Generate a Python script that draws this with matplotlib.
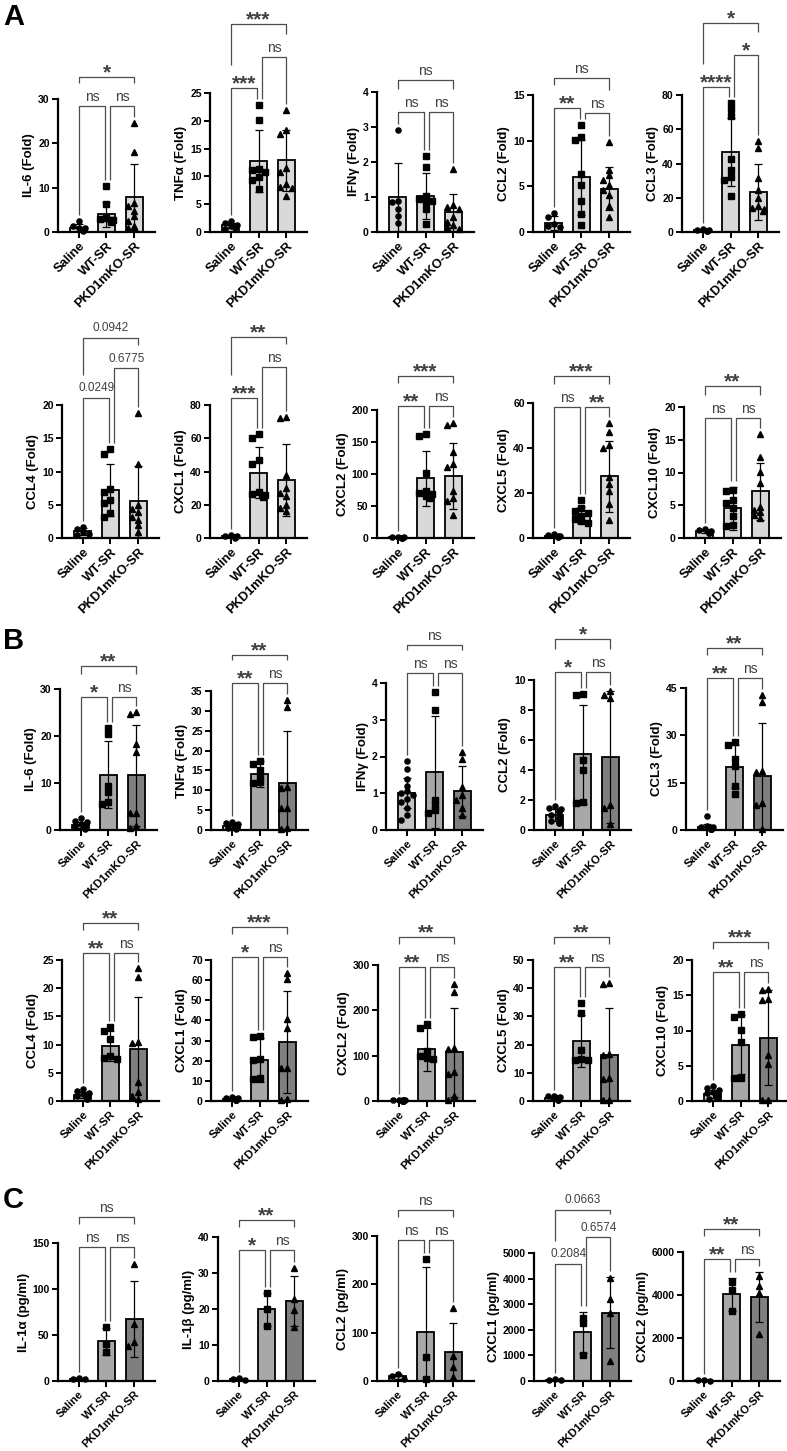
import numpy as np
import matplotlib.pyplot as plt

plt.rcParams['font.family'] = ['Liberation Sans', 'DejaVu Sans']
plt.rcParams['font.weight'] = 'bold'
plt.rcParams['axes.labelweight'] = 'bold'

groups = ["Saline", "WT-SR", "PKD1mKO-SR"]
markers = ["o", "s", "^"]
pairs = [(0, 1), (1, 2), (0, 2)]

# ---- Panel A: fold change ----
a_names = ["IL-6", "TNFα", "IFNγ", "CCL2", "CCL3", "CCL4", "CXCL1", "CXCL2", "CXCL5", "CXCL10"]
a_ymax = [30, 25, 4, 15, 80, 20, 80, 200, 60, 20]
a_step = [10, 5, 1, 5, 20, 5, 20, 50, 20, 5]
a_mean = [[1.0, 4.0, 7.9], [1.2, 12.8, 12.9], [1.0, 1.02, 0.57], [1.0, 6.0, 4.76], [1.0, 46.6, 23.4],
          [1.0, 7.2, 5.5], [1.0, 39.2, 34.8], [1.0, 93, 97], [1.0, 10.2, 27.5], [1.0, 4.56, 7.1]]
a_sd = [[0.7, 2.8, 7.4], [0.45, 5.6, 5.5], [0.98, 0.66, 0.53], [0.8, 4.1, 2.4], [0.4, 20, 16.3],
        [0.5, 3.9, 5.4], [0.6, 15.3, 21.6], [0.6, 43, 52], [0.5, 3.5, 15.8], [0.2, 3.3, 4.4]]
a_pts = [
    [[2.4, 1.3, 1.0, 0.8, 0.5, 0.3], [10.3, 6.4, 3.2, 3.0, 2.8, 2.6, 2.4, 2.3],
     [24.6, 18.0, 6.5, 5.8, 4.7, 3.5, 2.4, 1.3, 0.9]],
    [[1.9, 1.6, 1.3, 1.0, 0.8, 0.6], [22.9, 20.2, 11.4, 11.1, 10.8, 9.9, 9.3, 7.8],
     [22.0, 18.4, 17.7, 11.6, 10.8, 8.7, 8.1, 7.9, 6.4]],
    [[2.92, 0.9, 0.86, 0.65, 0.45, 0.25], [2.17, 1.85, 1.02, 0.95, 0.9, 0.86, 0.67, 0.24],
     [1.79, 0.77, 0.72, 0.67, 0.43, 0.29, 0.19, 0.14, 0.1]],
    [[2.1, 1.65, 0.85, 0.65, 0.55], [11.7, 10.4, 10.1, 6.3, 5.2, 3.4, 2.0, 0.8],
     [9.9, 6.8, 6.2, 5.7, 5.1, 4.6, 4.0, 2.9, 1.6]],
    [[1.6, 1.3, 1.0, 0.8, 0.7, 0.6], [75.4, 72.0, 68.0, 42.6, 36.0, 32.2, 30.3, 21.0],
     [53, 49, 31.8, 24.4, 20, 15.1, 14.1, 13.2, 12.2]],
    [[1.66, 1.4, 0.9, 0.65, 0.4], [13.4, 12.7, 7.4, 6.9, 5.7, 5.2, 3.7, 3.2],
     [18.8, 11.2, 4.9, 4.4, 3.9, 3.2, 2.7, 1.9, 0.9]],
    [[2.0, 1.5, 1.0, 0.7, 0.5, 0.3], [62.5, 59.9, 47.2, 44.4, 27.7, 26.7, 25.7, 24.7],
     [73, 72, 38, 30, 27, 25, 20, 18, 16]],
    [[2.0, 1.5, 1.0, 0.7, 0.5, 0.3], [162, 159, 101, 73, 70, 68, 65, 63],
     [179, 177, 134, 116, 111, 73, 63, 58, 36]],
    [[1.8, 1.3, 1.0, 0.7, 0.6, 0.4], [16.8, 13.2, 12.0, 11.0, 10.0, 8.5, 7.5, 6.5],
     [51.3, 46.9, 41.4, 40.0, 27.0, 24.0, 21.0, 15.0, 8.0]],
    [[1.3, 1.2, 1.0, 0.9, 0.8, 0.7], [7.3, 7.1, 5.8, 5.3, 4.6, 3.3, 2.0, 1.8],
     [15.9, 12.3, 10.1, 8.4, 4.8, 4.3, 3.9, 3.5, 3.0]],
]
a_sig = [["ns", "ns", "*"], ["***", "ns", "***"], ["ns", "ns", "ns"], ["**", "ns", "ns"],
         ["****", "*", "*"], ["0.0249", "0.6775", "0.0942"], ["***", "ns", "**"],
         ["**", "ns", "***"], ["ns", "**", "***"], ["ns", "ns", "**"]]

# ---- Panel B: fold change ----
b_names = a_names
b_ymax = [30, 35, 4, 10, 45, 25, 70, 300, 50, 20]
b_step = [10, 5, 1, 2, 15, 5, 10, 100, 10, 5]
b_mean = [[1.0, 11.8, 11.6], [1.0, 14.1, 11.8], [1.0, 1.58, 1.05], [1.0, 5.04, 4.89], [0.85, 20.0, 17.1],
          [1.0, 9.8, 9.2], [1.0, 20.4, 29.3], [1.0, 114, 107], [1.0, 21.2, 16.4], [1.0, 8.0, 9.0]]
b_sd = [[0.65, 7.1, 10.8], [0.5, 3.3, 13.2], [0.41, 1.53, 0.68], [0.37, 3.3, 4.4], [1.1, 6.8, 16.9],
        [0.55, 2.7, 9.2], [0.5, 11.0, 25.2], [0.8, 48, 98], [0.42, 9.2, 16.6], [0.55, 4.2, 6.8]]
b_pts = [
    [[2.5, 2.0, 1.6, 1.3, 1.1, 1.0, 0.9, 0.7, 0.6, 0.5, 0.4, 0.3], [21.7, 20.5, 9.3, 8.0, 6.0, 5.5],
     [25.1, 24.7, 18.4, 16.6, 3.7, 3.7, 0.8, 0.5]],
    [[2.0, 1.8, 1.5, 1.3, 1.1, 1.0, 0.9, 0.8, 0.6, 0.5, 0.4, 0.3], [17.5, 16.7, 15.2, 13.3, 12.0, 11.8],
     [32.7, 31.0, 10.9, 10.7, 5.6, 5.5, 0.5, 0.3]],
    [[1.87, 1.66, 1.4, 1.2, 1.05, 1.0, 0.95, 0.85, 0.75, 0.6, 0.4, 0.27], [3.75, 3.26, 0.82, 0.68, 0.54, 0.45],
     [2.13, 1.94, 1.18, 0.95, 0.82, 0.59, 0.4]],
    [[1.6, 1.5, 1.4, 1.3, 1.2, 1.0, 0.9, 0.8, 0.7, 0.6, 0.5, 0.5], [9.05, 9.0, 4.7, 4.0, 1.85, 1.8],
     [9.3, 9.0, 8.8, 1.7, 1.5, 0.4]],
    [[4.3, 1.2, 1.0, 0.8, 0.6, 0.5, 0.5, 0.4, 0.3, 0.3, 0.2, 0.2], [27.9, 26.8, 22.5, 20.4, 13.9, 11.3],
     [42.9, 40.7, 18.6, 18.3, 8.6, 8.0, 0.4]],
    [[2.2, 1.8, 1.5, 1.2, 1.0, 0.9, 0.8, 0.7, 0.6, 0.5, 0.4, 0.4], [13.2, 12.5, 11.0, 8.0, 7.6, 7.4],
     [23.6, 21.9, 10.4, 10.3, 3.4, 1.6, 0.8, 0.3]],
    [[2.0, 1.7, 1.5, 1.2, 1.0, 0.9, 0.8, 0.7, 0.6, 0.5, 0.4, 0.3], [32.3, 32.0, 21.0, 20.4, 11.6, 10.8],
     [63.7, 60.8, 40.9, 36.4, 16.6, 16.4, 0.8, 0.4]],
    [[3.0, 2.5, 2.0, 1.5, 1.2, 1.0, 0.8, 0.6, 0.5, 0.4, 0.3, 0.2], [170, 160, 110, 100, 95, 92],
     [258, 241, 116, 115, 63, 60, 10, 2]],
    [[1.8, 1.6, 1.4, 1.2, 1.1, 1.0, 0.9, 0.8, 0.7, 0.6, 0.5, 0.4], [34.8, 31.2, 18.0, 15.0, 14.7, 14.4],
     [41.7, 41.4, 16.5, 16.3, 8.0, 7.8, 0.3, 0.2]],
    [[2.1, 1.9, 1.6, 1.3, 1.1, 1.0, 0.9, 0.8, 0.6, 0.5, 0.4, 0.3], [12.3, 11.9, 10.1, 8.4, 3.2, 3.2],
     [15.9, 15.7, 14.5, 14.3, 6.5, 5.3, 0.2, 0.1]],
]
b_sig = [["*", "ns", "**"], ["**", "ns", "**"], ["ns", "ns", "ns"], ["*", "ns", "*"], ["**", "ns", "**"],
         ["**", "ns", "**"], ["*", "ns", "***"], ["**", "ns", "**"], ["**", "ns", "**"], ["**", "ns", "***"]]

# ---- Panel C: protein (pg/ml) ----
c_names = ["IL-1α", "IL-1β", "CCL2", "CXCL1", "CXCL2"]
c_ymax = [150, 40, 300, 5000, 6000]
c_step = [50, 10, 100, 1000, 2000]
c_mean = [[2.5, 43.3, 67.3], [0.5, 19.9, 22.2], [10, 102, 60], [53, 1900, 2665], [40, 4033, 3894]]
c_sd = [[0.5, 14.5, 41.5], [0.2, 4.6, 7.0], [5, 133, 61], [25, 790, 1390], [20, 760, 1160]]
c_pts = [
    [[3.0, 2.5, 2.0], [59, 40, 31], [127, 62, 42, 38]],
    [[0.7, 0.5, 0.3], [24.5, 20.0, 15.3], [31.3, 22.8, 19.7, 15.1]],
    [[15, 10, 5], [252, 50, 5], [151, 51, 30, 8]],
    [[80, 50, 30], [2450, 2250, 1000], [4040, 3200, 2650, 770]],
    [[60, 40, 20], [4600, 4250, 3250], [4863, 4407, 4103, 2203]],
]
c_sig = [["ns", "ns", "ns"], ["*", "ns", "**"], ["ns", "ns", "ns"],
         ["0.2084", "0.6574", "0.0663"], ["**", "ns", "**"]]

# ---- layout (pixels) ----
W, H = 787, 1451
AXW = 97
row_left = [[58, 210, 377, 533, 682], [62, 210, 377, 533, 684], [60, 211, 386, 534, 686],
            [62, 211, 378, 533, 692], [58, 218, 377, 534, 683]]
row_top = [[99, 93, 92, 95, 95], [405, 405, 410, 403, 407], [689, 691, 683, 680, 688],
           [960, 960, 965, 960, 960], [1243, 1237, 1236, 1253, 1252]]
row_bottom = [232, 538, 830, 1101, 1381]
row_xfs = [9.3, 9.3, 8.2, 8.2, 8.0]
# bracket heights as fraction of y-axis height: (Saline-WT, WT-PKD, Saline-PKD)
a_lv = [(0.947, 0.947, 1.165), (1.036, 1.259, 1.496), (0.857, 0.857, 1.086), (0.905, 0.869, 1.124),
        (1.059, 1.294, 1.529), (1.053, 1.278, 1.504), (1.053, 1.286, 1.511), (1.035, 1.035, 1.266),
        (0.97, 0.97, 1.2), (0.916, 0.916, 1.16)]
b_lv = [(0.943, 0.943, 1.163), (1.058, 1.058, 1.259), (1.068, 1.068, 1.259), (1.053, 1.053, 1.273),
        (1.07, 1.07, 1.282), (1.05, 1.05, 1.262), (1.021, 1.021, 1.234), (0.985, 0.985, 1.206),
        (0.95, 0.95, 1.163), (0.915, 0.915, 1.128)]
c_lv = [(0.971, 0.971, 1.188), (0.91, 0.91, 1.118), (0.972, 0.972, 1.182), (0.915, 1.123, 1.338),
        (0.947, 0.947, 1.176)]

col_a = ["#d9d9d9", "#d9d9d9", "#d9d9d9"]
col_bc = ["#c4c4c4", "#a8a8a8", "#7f7f7f"]
XPX = AXW / 3.5  # pixels per x unit


def spread(vals, u):
    cand = [0, -0.12, 0.12, -0.22, 0.22, -0.06, 0.06, -0.17, 0.17]
    placed, out = [], []
    for v in vals:
        pick = cand[-1]
        for c in cand:
            if all(abs(c - pc) * XPX > 5 or abs(v - pv) / u > 5 for pc, pv in placed):
                pick = c
                break
        placed.append((pick, v))
        out.append(pick)
    return np.array(out)


def brackets(ax, u, ymax, mean, sd, pts, sig, lv):
    tops = [max(max(p), m + s) for p, m, s in zip(pts, mean, sd)]
    lev = [l * ymax for l in lv]
    xe = [(0.0, 0.96), (1.14, 2.0), (0.0, 2.0)]
    for k, (i, j) in enumerate(pairs):
        y = lev[k]
        if k < 2:
            b1, b2 = tops[i] + 6 * u, tops[j] + 6 * u
        else:
            b1, b2 = lev[0] + 23 * u, lev[1] + 23 * u
        b1, b2 = min(b1, y - 3 * u), min(b2, y - 3 * u)
        x1, x2 = xe[k]
        ax.plot([x1, x1, x2, x2], [b1, y, y, b2], color="#4d4d4d", lw=0.9,
                clip_on=False, zorder=5, solid_capstyle="butt")
        s = sig[k]
        if s.startswith("*"):
            fs, off, fw = 15, -1.5, "bold"
        elif s == "ns":
            fs, off, fw = 10, 5.0, "normal"
        else:
            fs, off, fw = 8.5, 6.5, "normal"
        ax.text((x1 + x2) / 2, y + off * u, s, ha="center", va="baseline",
                fontsize=fs, fontweight=fw, color="#404040", clip_on=False)


def draw(ax, hpx, ymax, step, mean, sd, pts, sig, lv, colors, ylabel, xfs):
    x = np.arange(3)
    u = ymax / hpx
    ax.bar(x, mean, width=0.62, color=colors, edgecolor="black", linewidth=1.3, zorder=2)
    ax.errorbar(x, mean, yerr=sd, fmt="none", ecolor="black", elinewidth=0.9,
                capsize=2.8, capthick=0.9, zorder=3)
    for i, p in enumerate(pts):
        ax.plot(i + spread(p, u), p, ls="none", marker=markers[i], ms=3.7,
                color="black", zorder=4, clip_on=False)
    ax.set_xlim(-0.75, 2.75)
    ax.set_ylim(0, ymax)
    ticks = list(range(0, ymax + 1, step))
    ax.set_yticks(ticks)
    ax.set_yticklabels([str(t) for t in ticks], fontsize=7.5)
    ax.set_xticks(x)
    ax.set_xticklabels(groups, rotation=45, ha="right", rotation_mode="anchor", fontsize=xfs)
    ax.tick_params(direction="out", length=4, width=1.4, pad=2)
    for side in ["top", "right"]:
        ax.spines[side].set_visible(False)
    for side in ["left", "bottom"]:
        ax.spines[side].set_linewidth(1.6)
    ax.set_ylabel(ylabel, fontsize=9.5, labelpad=2)
    ax.patch.set_alpha(0)
    brackets(ax, u, ymax, mean, sd, pts, sig, lv)


fig = plt.figure(figsize=(W / 100, H / 100), dpi=100)


def add_ax(r, c):
    left, top, bot = row_left[r][c], row_top[r][c], row_bottom[r]
    ax = fig.add_axes([left / W, 1 - bot / H, AXW / W, (bot - top) / H])
    return ax, bot - top


for k in range(10):
    r, c = k // 5, k % 5
    ax, h = add_ax(r, c)
    draw(ax, h, a_ymax[k], a_step[k], a_mean[k], a_sd[k], a_pts[k], a_sig[k], a_lv[k],
         col_a, a_names[k] + " (Fold)", row_xfs[r])

for k in range(10):
    r, c = 2 + k // 5, k % 5
    ax, h = add_ax(r, c)
    draw(ax, h, b_ymax[k], b_step[k], b_mean[k], b_sd[k], b_pts[k], b_sig[k], b_lv[k],
         col_bc, b_names[k] + " (Fold)", row_xfs[r])

for k in range(5):
    ax, h = add_ax(4, k)
    draw(ax, h, c_ymax[k], c_step[k], c_mean[k], c_sd[k], c_pts[k], c_sig[k], c_lv[k],
         col_bc, c_names[k] + " (pg/ml)", row_xfs[4])

for letter, ypx in [("A", 17), ("B", 641), ("C", 1200)]:
    fig.text(3 / W, 1 - ypx / H, letter, fontsize=21, fontweight="bold", ha="left", va="center")

fig.savefig("out.png", dpi=100)
